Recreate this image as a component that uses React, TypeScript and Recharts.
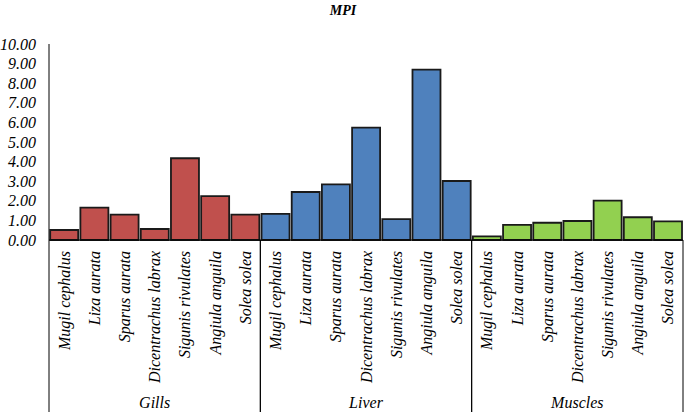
import { BarChart, Bar, XAxis, YAxis, Cell } from "recharts";

const groups = ["Gills", "Liver", "Muscles"];
const species = [
  "Mugil cephalus", "Liza aurata", "Sparus aurata", "Dicentrachus labrax",
  "Sigunis rivulates", "Angiula anguila", "Solea solea",
];
const gills = [0.51, 1.65, 1.29, 0.56, 4.17, 2.24, 1.29];
const liver = [1.33, 2.45, 2.84, 5.73, 1.07, 8.69, 3.01];
const muscles = [0.19, 0.77, 0.88, 0.97, 2.01, 1.16, 0.95];
const yTicks = [0, 1, 2, 3, 4, 5, 6, 7, 8, 9, 10];
const colors = ["#C0504D", "#4F81BD", "#92D050"];

const data = [gills, liver, muscles].flatMap((vals, g) =>
  vals.map((v, i) => ({ key: `${g}-${i}`, name: species[i], group: g, value: v }))
);

const W = 685;
const H = 412;
const LEFT = 49;
const RIGHT = 2;
const TOP = 44;
const XH = 172;
const slot = (W - LEFT - RIGHT) / data.length;
const FONT = "Liberation Serif";
const txt = { fontFamily: FONT, fontStyle: "italic" as const };

function CatTick(props: any) {
  const { x, y, index } = props;
  const row = data[index];
  const parts: any[] = [];
  parts.push(
    <text key="t" x={x} y={y + 11} transform={`rotate(-90, ${x}, ${y + 11})`} textAnchor="end"
      dy="0.35em" style={txt} fontSize={16} fill="#000">
      {row.name}
    </text>
  );
  const pos = index % 7;
  if (pos === 0) {
    const lx = x - slot / 2;
    parts.push(<line key="l" x1={lx} y1={y} x2={lx} y2={H} stroke="#000" strokeWidth={1} />);
  }
  if (pos === 6) {
    const rx = x + slot / 2;
    parts.push(<line key="r" x1={rx} y1={y} x2={rx} y2={H} stroke="#000" strokeWidth={1} />);
  }
  if (pos === 3) {
    parts.push(
      <text key="g" x={x} y={y + 162} textAnchor="middle" dy="0.35em" style={txt}
        fontSize={16} fill="#000">
        {groups[row.group]}
      </text>
    );
  }
  return <g>{parts}</g>;
}

export default function App() {
  return (
    <div style={{ position: "absolute", left: 0, top: 0, width: W, height: H, background: "#fff" }}>
      <svg width={W} height={30} style={{ position: "absolute", left: 0, top: 0 }}>
        <text x={343} y={15} textAnchor="middle" style={{ ...txt, fontWeight: "bold" }}
          fontSize={14} fill="#000">MPI</text>
      </svg>
      <BarChart width={W} height={H} data={data} barCategoryGap={1.2}
        margin={{ top: TOP, right: RIGHT, bottom: 0, left: 0 }}>
        <XAxis dataKey="key" interval={0} height={XH} tickLine={false} tickSize={0} tickMargin={0}
          tick={<CatTick />} axisLine={{ stroke: "#000" }} />
        <YAxis domain={[0, 10]} ticks={yTicks} interval={0} width={LEFT} tickLine={false} tickSize={0}
          tickMargin={13} axisLine={{ stroke: "#000" }} tickFormatter={(v: number) => v.toFixed(2)}
          tick={{ style: txt, fontSize: 16, fill: "#000" }} />
        <Bar dataKey="value" stroke="#1a1a1a" strokeWidth={1.8} isAnimationActive={false}>
          {data.map((d) => (
            <Cell key={d.key} fill={colors[d.group]} />
          ))}
        </Bar>
      </BarChart>
    </div>
  );
}
